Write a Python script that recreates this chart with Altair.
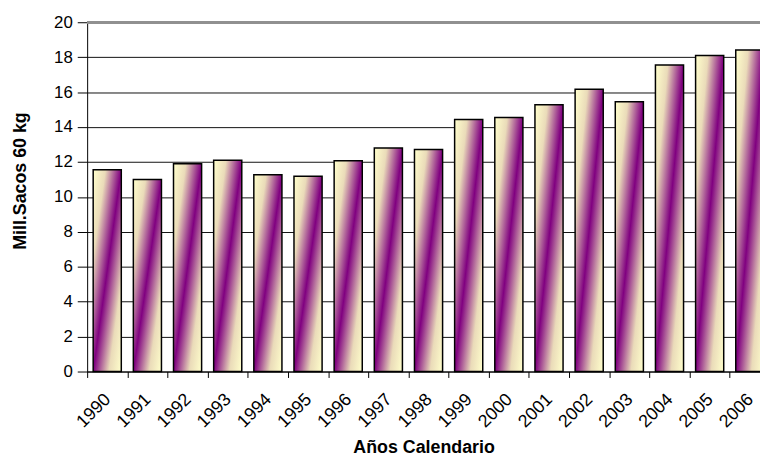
import altair as alt
import pandas as pd

years = ["1990", "1991", "1992", "1993", "1994", "1995", "1996", "1997", "1998",
         "1999", "2000", "2001", "2002", "2003", "2004", "2005", "2006"]
values = [11.55, 11.0, 11.9, 12.1, 11.27, 11.18, 12.07, 12.8, 12.71,
          14.43, 14.55, 15.28, 16.17, 15.45, 17.55, 18.09, 18.41]
y_ticks = [0, 2, 4, 6, 8, 10, 12, 14, 16, 18, 20]

df = pd.DataFrame({"year": years, "value": values})

FONT = "Liberation Sans"

grad = alt.Gradient(
    gradient="linear", x1=0, y1=0, x2=1, y2=1,
    stops=[
        alt.GradientStop(color="#FFFFCC", offset=0),
        alt.GradientStop(color="#EADBB9", offset=0.22),
        alt.GradientStop(color="#800080", offset=0.5),
        alt.GradientStop(color="#EADBB9", offset=0.78),
        alt.GradientStop(color="#FFFFCC", offset=1),
    ],
)

x_enc = alt.X(
    "year:N", sort=None,
    scale=alt.Scale(range=[0, 690], paddingInner=0, paddingOuter=0),
    axis=alt.Axis(
        title="Años Calendario", titleFont=FONT, titleFontSize=18, titleFontWeight="bold",
        titleColor="black", titleX=340, titleY=82, titleAlign="center", titleBaseline="alphabetic",
        labelAngle=-45, labelFont=FONT, labelFontSize=18, labelColor="black",
        labelOffset=-6, labelPadding=13, labelOverlap=False,
        tickBand="extent", tickSize=6, tickColor="black", domainColor="black",
        grid=False,
    ),
)

y_axis = alt.Axis(
    values=y_ticks, title="Mill.Sacos 60 kg", titleFont=FONT, titleFontSize=18,
    titleFontWeight="bold", titleColor="black", titleX=-67, titleY=160,
    titleAngle=270, titleAlign="center", titleBaseline="middle",
    labelFont=FONT, labelFontSize=17, labelColor="black", labelPadding=5,
    labelOverlap=False,
    tickSize=10, tickColor="black", domainColor="black",
    grid=True, gridColor="#111111", gridWidth=1,
)
y_scale = alt.Scale(domain=[0, 20], nice=False)

bars = alt.Chart(df).mark_bar(
    fill=grad, stroke="black", strokeWidth=1.5, width=alt.RelativeBandSize(0.7)
).encode(x=x_enc, y=alt.Y("value:Q", scale=y_scale, axis=y_axis))

border = alt.Chart(df).mark_rule(color="#909090", strokeWidth=2).encode(
    y=alt.Y(datum=20, type="quantitative", scale=y_scale, axis=y_axis)
)

chart = alt.layer(bars, border).properties(
    width=680, height=353,
    title=alt.TitleParams(
        "Años Calendario 1990 a 2006", font=FONT, fontSize=27, fontWeight="bold",
        color="black", anchor="middle", offset=9, dx=-33,
    ),
    autosize=alt.AutoSizeParams(type="none"),
    padding={"left": 80, "top": 12, "right": 0, "bottom": 86},
).configure_view(stroke=None)

chart.save("out.html", embed_options={"renderer": "svg", "actions": False})
